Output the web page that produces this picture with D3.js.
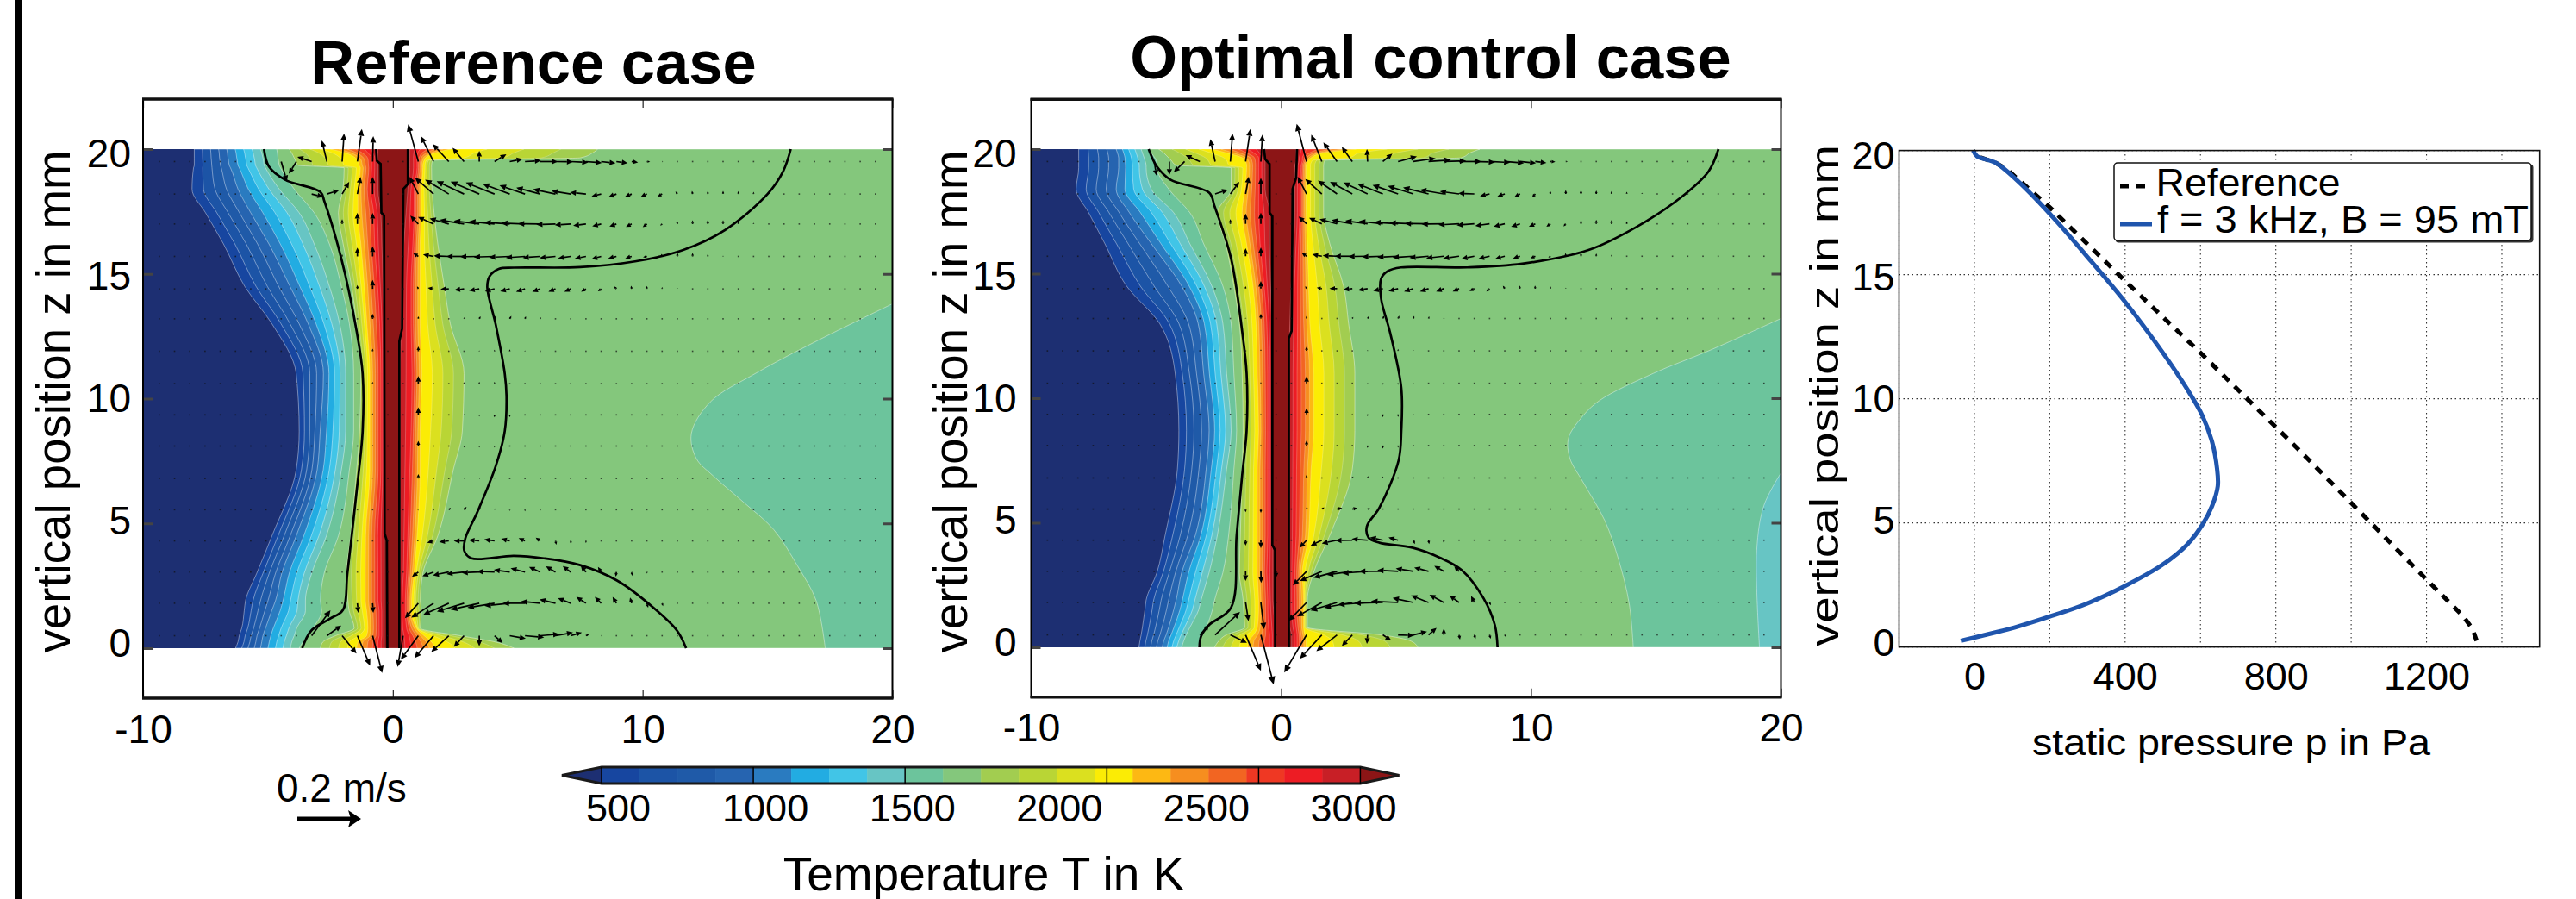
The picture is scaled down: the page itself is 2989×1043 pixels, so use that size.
<!DOCTYPE html>
<html><head><meta charset="utf-8">
<script src="https://cdn.jsdelivr.net/npm/d3@7/dist/d3.min.js"></script>
<style>html,body{margin:0;background:#fff}svg{display:block}text{font-family:"Liberation Sans",Arial,sans-serif;fill:#000}</style>
</head><body><svg id="c" width="2989" height="1043"></svg>
<script>
// ---- colour levels (K)
const bandColors=["#1746a0","#1c54a6","#1f5aa8","#2664b0","#2a7bc0","#22ace2","#41c5e7","#67c5c4","#6cc49c","#84c77c","#a2cd50","#b9d535","#dbe01f","#fbec05","#fdb813","#f68e1f","#f26522","#ef3823","#ed1c24","#c81f26"];
const colorLow="#1d2f72", colorHigh="#8c1516";
const levelStart=500, levelStep=125;
const cbTickValues=[500,1000,1500,2000,2500,3000];
const cbTickLines=[500,1000,1500,2165,2665];
// ---- contour readings: x (mm) of each key isotherm at each height
const zStations=[0,.25,.5,.8,1.5,1.9,3,4.5,7.15,8.7,11,13,14.5,16.2,17.45,18.4,19.25,19.35,19.55,19.65,19.85,20];
const leftKeys=[500,1000,1500,1625,1750,2250,2750,3000];
const rightKeys=[3000,2750,2250,1750];
const refLeft=[
[-6.3,-5.3,-4.1,-3.75,-2.9,-1.45,-.6,-.34],
[-6.2,-5.25,-4.05,-3.6,-2.8,-1.4,-.6,-.34],
[-6.15,-5.2,-3.95,-3.4,-2.3,-1.05,-.55,-.34],
[-6.05,-5.1,-3.85,-3.2,-1.55,-1,-.55,-.34],
[-5.95,-4.85,-3.5,-2.85,-1.75,-1.05,-.55,-.34],
[-5.9,-4.7,-3.5,-2.9,-1.8,-1.1,-.6,-.34],
[-5.45,-4.45,-3.25,-2.75,-1.85,-1.1,-.6,-.34],
[-4.84,-3.87,-2.66,-2.18,-1.69,-1.09,-.61,-.34],
[-3.87,-3.03,-2.06,-1.74,-1.45,-.92,-.48,-.34],
[-3.75,-2.91,-1.89,-1.57,-1.33,-.92,-.48,-.34],
[-3.87,-2.78,-1.89,-1.57,-1.28,-.92,-.48,-.34],
[-4.84,-3.39,-2.13,-1.74,-1.45,-1.04,-.53,-.34],
[-5.93,-4.12,-2.54,-2.06,-1.65,-1.14,-.61,-.39],
[-6.78,-4.96,-3.15,-2.54,-1.99,-1.28,-.73,-.44],
[-7.5,-5.69,-3.75,-3.15,-2.18,-1.4,-.77,-.48],
[-8.04,-6.2,-4.55,-3.95,-2,-1.4,-.9,-.6],
[-7.98,-6.5,-5.1,-4.5,-1.95,-1.3,-.85,-.6],
[-7.95,-6.55,-5.15,-4.55,-3.8,-1.35,-.85,-.6],
[-7.95,-6.58,-5.18,-4.58,-3.9,-1.4,-.85,-.6],
[-7.95,-6.6,-5.2,-4.6,-3.95,-1.5,-.85,-.6],
[-7.95,-6.62,-5.25,-4.62,-4.05,-1.9,-1,-.6],
[-7.95,-6.65,-5.3,-4.65,-4.15,-2.5,-1.13,-.6]];
const refRight=[
[.24,.73,1.7,4.85],[.24,.7,1.55,4.1],[.24,.65,1.25,2.7],[.24,.55,.95,1.1],[.24,.5,.75,1.15],[.24,.5,.75,1.1],
[.29,.55,.85,1.2],[.29,.6,.97,1.8],[.29,.68,1.09,2.42],[.29,.73,1.09,2.78],[.29,.77,1.16,2.85],[.34,.73,1.09,2.3],
[.36,.73,1.09,2.06],[.44,.8,1.09,1.8],[.53,.85,1.14,1.65],[.6,.85,1.14,1.57],[.68,.97,1.2,1.55],[.68,.97,1.2,1.55],
[.68,.97,1.25,1.6],[.68,.97,1.3,7.5],[.68,1,1.7,8],[.68,1.1,2.3,8.2]];
const optLeft=[
[-5.69,-4.75,-3.98,-3.32,-2.66,-1.34,-.46,-.24],
[-5.65,-4.7,-3.9,-3.25,-2.5,-1.3,-.46,-.24],
[-5.6,-4.6,-3.8,-3.15,-2.2,-1.1,-.46,-.24],
[-5.55,-4.5,-3.65,-3,-1.45,-.95,-.5,-.24],
[-5.45,-4.3,-3.3,-2.75,-1.5,-.9,-.53,-.3],
[-5.4,-4.2,-3.2,-2.66,-1.52,-.9,-.53,-.33],
[-4.97,-3.98,-2.88,-2.33,-1.67,-.95,-.57,-.33],
[-4.64,-3.43,-2.55,-2.1,-1.63,-.95,-.53,-.33],
[-4.15,-3,-2.18,-1.89,-1.56,-.95,-.53,-.35],
[-4.09,-2.88,-2,-1.78,-1.52,-.9,-.53,-.35],
[-4.24,-3.1,-2.18,-1.89,-1.56,-.95,-.53,-.35],
[-4.86,-3.32,-2.33,-2,-1.67,-1,-.57,-.37],
[-6.18,-3.98,-2.77,-2.33,-1.89,-1.12,-.68,-.42],
[-7.05,-5.19,-3.65,-3.1,-2.22,-1.38,-.84,-.46],
[-7.7,-6.07,-4.3,-3.65,-2.55,-1.56,-.9,-.46],
[-8.2,-6.6,-5.2,-4.5,-2,-1.45,-.9,-.64],
[-8.1,-6.5,-5.4,-4.97,-2,-1.38,-.9,-.64],
[-8.1,-6.5,-5.4,-4.97,-4.2,-1.38,-.9,-.64],
[-8.1,-6.5,-5.45,-5,-4.4,-1.45,-.9,-.64],
[-8.1,-6.5,-5.48,-5.05,-4.5,-1.55,-.9,-.64],
[-8.1,-6.55,-5.55,-5.2,-4.7,-2.2,-1.1,-.64],
[-8.1,-6.6,-5.6,-5.3,-4.9,-2.75,-1.35,-.64]];
const optRight=[
[.42,.64,1,5.47],[.42,.64,1,5.2],[.42,.64,.95,4],[.35,.6,.9,1.05],[.3,.55,.9,1.05],[.29,.55,.9,1.05],
[.3,.55,.85,1.3],[.3,.6,1.1,1.95],[.31,.62,1.2,2.85],[.31,.64,1.3,2.95],[.31,.64,1.3,2.95],[.35,.66,1.15,2.7],
[.4,.66,1.1,2.5],[.5,.7,1.05,1.95],[.55,.75,1,1.7],[.55,.75,1,1.7],[.55,.8,1,1.7],[.55,.8,1,1.7],
[.6,.85,1.1,1.75],[.6,.85,1.2,7.2],[.6,.95,1.7,7.56],[.6,1,3,7.95]];
// cooler pockets on the right of the plate
const refPocketX=[17.31,16.95,16.2,15.25,14.04,12.83,12.15,11.95,12.71,14.5,16.95,20];
const refPocketZ=[0,1.9,3.3,4.75,5.85,6.9,7.6,8.6,9.87,11,12.3,13.8];
const optPocketX=[14.09,13.93,13.5,12.95,12.07,11.55,11.5,12,12.73,14.9,17.1,20];
const optPocketZ=[0,1.74,3.53,5.09,6.65,7.6,8.4,9.2,9.9,11,11.9,13.2];
const optPocket2X=[19.14,19.03,19.32,20];
const optPocket2Z=[0,3.9,5.7,7];
// ---- black lines [x,z]
const refLines=[
[[-5.16,20],[-4.96,19.3],[-4.31,18.77],[-2.9,18.28],[-2.74,17.9],[-2.06,15.6],[-1.45,12.7],[-1.21,11],[-1.21,8.7],[-1.45,6.3],[-1.82,3],[-2,1.53],[-2.54,1.17],[-3.27,.7],[-3.63,0]],
[[15.93,20],[15.62,19.1],[15,18.2],[13.3,16.76],[11.6,15.95],[9.7,15.5],[7.5,15.27],[4.84,15.25],[4.24,15.2],[3.87,14.9],[3.78,14.47],[4.12,12.96],[4.48,11],[4.55,10.1],[4.48,8.7],[4.12,7.3],[3.39,5.47],[2.9,4.4],[2.86,3.9],[3.15,3.6],[4.84,3.7],[6.05,3.6],[7.5,3.33],[8.96,2.72],[10.4,1.65],[11.38,.7],[11.74,0]]];
const refCore=[
[[-.67,20],[-.64,19.53],[-.49,19.41],[-.46,17.45],[-.35,17.34],[-.33,4.6],[-.24,4.3],[-.22,0]],
[[.6,20],[.6,18.6],[.42,18.4],[.37,12.8],[.26,12.3],[.26,0]]];
const optLines=[
[[-5.3,20],[-4.97,19.3],[-4.42,18.77],[-2.88,18.25],[-2.66,17.7],[-2,15.6],[-1.56,12.7],[-1.38,11],[-1.38,8.7],[-1.56,6.9],[-1.78,4.5],[-2,1.6],[-2.88,.9],[-3.2,.45],[-3.27,0]],
[[17.5,20],[17.1,19.1],[16,18.06],[14.26,16.9],[12.3,15.95],[9.65,15.4],[7.45,15.25],[4.8,15.25],[4.26,15.1],[4,14.8],[4,14],[4.37,12.6],[4.81,10.4],[4.81,8.7],[4.7,7.5],[3.93,5.6],[3.43,4.85],[3.5,4.4],[3.93,4.2],[5.25,4],[6.35,3.6],[7.23,3.1],[8.1,1.97],[8.55,.9],[8.66,0]]];
const optCore=[
[[-.68,20],[-.64,19.6],[-.46,19.4],[-.46,17.45],[-.35,17.3],[-.35,4.1],[-.24,3.9],[-.24,0]],
[[.64,20],[.6,18.85],[.46,18.4],[.42,12.7],[.31,12.4],[.31,0]]];
// ---- velocity (cm/s): [z, first column, [u,v,u,v,...]]
const colFirst=-15, colLast=32, colX0=-.2, colDx=.61;
const rowsZ=[.5,1.8,3.05,4.3,5.55,6.8,8.1,9.35,10.6,11.9,13.2,14.4,15.7,17,18.2,19.5];
const refQuiver=[
[19.5,-8,[.3,-1,1.8,-6.3,-2.4,-3.8,-4.5,1.5,-1.6,6.6,.6,8.8,1.4,10.2,.2,8,0,0,0,0,-3.2,11.7,-4,8,-5,5.5,-3.6,4.3,0,3.4,3.7,2.3,4,.8,5,.3,5.5,0,5.5,-.1,5.5,-.3,5,-.4,4.5,-.5,3.5,-.5,2,-.3,1,-.1,.3,0]],
[18.2,-5,[3.6,-.9,3.8,1.2,2.2,3.8,1,5.4,0,5.4,0,0,0,0,-2.8,5.4,-5.8,5.1,-7.4,4.5,-8.6,4,-9,3.9,-9,3.6,-8.5,3.2,-8,2.7,-7.5,2,-7,1.5,-6,1,-5,.5,-3,-.7,-2.5,-1,-2.2,-1,-2,-1,-1.4,-.8,-.6,.8,-.2,1,0,1,0,1,0,.9,0,.7,0,.4]],
[17,-3,[0,1.5,0,3.5,0,3.5,0,0,0,0,-2.5,2.6,-4.9,2.2,-6,1.7,-7.6,1.3,-8,1,-8,.8,-8,.5,-7.5,.3,-7,.1,-6,-.2,-5,-.3,-4,-.5,-2.8,-.7,-2.2,-.8,-1.8,-.9,-1.3,-1,-.6,-.5,-.1,1,0,1.2,0,1.3,0,1.2,0,.8,0,.4]],
[15.7,-3,[0,.7,0,2.8,0,3.2,0,0,0,0,-1.6,1,-3.3,.6,-4.7,.2,-5.5,0,-6,-.1,-6.5,-.2,-6.5,-.3,-6,-.4,-5.5,-.4,-5,-.5,-4,-.6,-3.5,-.7,-3,-.8,-2.6,-.7,-2,-.6,-1.2,-.3,-.3,.8,0,1.2,0,1.1,0,.8,0,.3]],
[14.4,-2,[0,1.2,0,2.8,0,0,0,0,-.4,.8,-1.8,.3,-2.6,-.1,-3,-.4,-3.2,-.6,-3,-.8,-3,-.8,-2.8,-.9,-2.5,-.9,-2.2,-.9,-2,-.9,-1.5,-.9,-1,-.8,-.7,.8,-.2,1,0,.9,0,.6,0,.3]],
[13.2,-1,[0,1.6,0,0,0,0,0,.8,0,0,0,0,.3,.6,.4,.8,.4,.9,.5,.9,.3,.8,.2,.5]],
[11.9,-1,[0,.8,0,0,0,0,0,1.5,0,0,0,0,0,0,0,.3,0,.5,0,.6,0,.3]],
[10.6,-1,[0,.6,0,0,0,0,0,2.4,0,0,0,0,0,.5,0,.6,0,.6]],
[9.35,-1,[0,.5,0,0,0,0,0,2.4,0,0,0,0,0,.3,0,-.5,0,-.8,0,-.7]],
[8.1,-1,[0,.4,0,0,0,0,0,1.6,0,0,0,0,0,-.5,0,-.5,0,-.5]],
[6.8,-1,[0,.3,0,0,0,0,0,1.4,0,0,0,0,.4,.3,.3,.3,0,.3]],
[5.55,2,[-.3,0,0,0,.6,.6,.8,.9,.3,.9,.1,.4,0,-.4,0,-.5]],
[4.3,2,[-.5,.2,-2,-.6,-3,-.3,-3.2,0,-3.3,.3,-3.2,.5,-2.7,.7,-2,.9,-1.4,1,.3,-1.2,.1,-1,0,-.7]],
[3.05,2,[-2,-1.5,-3.5,-1.3,-5,-1,-5.5,-.6,-5.5,-.2,-5.5,.2,-5,.7,-4.5,1.2,-3.5,1.6,-3,1.8,-2.5,1.9,-1.6,2,-1,1.6,-.2,-1.4,.3,-1.2,.1,-.5]],
[1.8,-2,[.3,-3,.2,-3,0,0,0,0,-4.2,-4.7,-7,-4.5,-8,-3.6,-8.5,-2.6,-9,-2,-8.5,-1.4,-8,-.8,-7,0,-6,.6,-5,1.2,-4,1.6,-3,2,-2,2,-1.2,2,-.5,1.8,.4,-1.4,.3,-.9]],
[.5,-5,[5.9,8,4.5,3.2,4.5,-5.6,4,-9.4,3,-11.7,0,0,-1.7,-9.8,-5.5,-7.5,-6,-7,-5.5,-5.1,-3.2,-3.5,0,-3.3,2.6,-2.3,5,-.9,6,-.5,6,.5,5.5,1,3.5,1,1,.5,.3,.1]]];
const optQuiver=[
[19.5,-8,[.8,-4.5,0,-4.2,-3.4,-3.3,-4.5,2,-1.5,7,.7,8.8,1.5,10.2,.5,8.4,0,0,0,0,-3.1,11.8,-3.3,8.4,-4.3,6,-3.3,4.6,-.2,3.9,3,2.5,5.9,1.6,7,1,7,.5,7,.2,7,0,6.5,-.2,6.5,-.3,6,-.5,5,-.5,3.5,-.4,1.5,-.1,.6,0]],
[18.2,-4,[4,1.3,2.8,3.8,1,5.4,0,5,0,0,0,0,-2.8,5.4,-5.2,4.7,-6,4.2,-7,3.8,-7.6,3.6,-8,3.2,-8,2.8,-8,2.5,-8,2,-7.5,1.3,-6,.8,-5,.2,-3,-.7,-2.4,-.9,-1.8,-1,-1,-1.1,-.2,1,0,1.2,0,1.2,0,1.1,0,.9,0,.7,0,.4]],
[17,-3,[0,1.5,0,3.2,0,3.5,0,0,0,0,-2.5,2.3,-4,1.9,-5.5,1.5,-6.5,1.2,-7,1,-7.5,.8,-7.5,.5,-7.5,.3,-7.5,.1,-7,-.1,-6.5,-.3,-5.5,-.4,-4.5,-.6,-3.5,-.8,-2.8,-.9,-2,-.9,-1.3,-.9,-.7,-.8,0,1.2,0,1.3,0,1.2,0,.8,0,.4]],
[15.7,-3,[0,.6,0,2.5,0,2.8,0,0,0,0,-1.5,1,-3,.6,-4.5,.2,-5.5,0,-6,-.1,-6.5,-.2,-6.5,-.3,-6.5,-.4,-6,-.5,-5.5,-.6,-5,-.7,-4,-.8,-3.5,-.8,-3,-.8,-2.3,-.8,-1.5,-.7,-.7,-.4,-.1,1,0,1.1,0,.9,0,.5]],
[14.4,-2,[0,.8,0,2.4,0,0,0,0,-.4,.8,-1.6,.3,-2.4,0,-2.8,-.3,-3,-.5,-3,-.7,-3,-.8,-2.9,-.9,-2.7,-.9,-2.4,-.9,-2,-.9,-1.5,-.8,-1,-.9,-.6,.9,-.3,1.1,-.1,1,0,.7,0,.3]],
[13.2,-2,[0,.3,0,1.5,0,0,0,0,0,.9,0,0,0,0,.3,.5,.4,.7,.4,.9,.4,.9,.3,.8,.2,.7,.1,.4]],
[11.9,-1,[0,.5,0,0,0,0,0,1.4,0,0,0,0,0,0,0,.3,0,.5,0,.6,0,.3]],
[10.6,-1,[0,.4,0,0,0,0,0,2.2,0,0,0,0,0,0,0,-.3,0,-.5,0,-.5,0,-.3]],
[9.35,-1,[0,.3,0,0,0,0,0,2,0,0,0,0,0,.3,0,-.6,0,-.9,0,-.8,0,-.3]],
[8.1,-1,[0,.3,0,0,0,0,0,1.6,0,0,0,0,0,0,0,-.8,0,-1,0,-.7]],
[6.8,-2,[0,-.3,0,-.4,0,0,0,0,0,1,0,0,0,0,.3,.5,.2,.6,0,.5]],
[5.55,-2,[0,-1,0,-1.2,0,0,0,0,.2,.8,.8,.5,1.6,.4,1.6,.3,.8,.2]],
[4.3,-2,[0,-1.7,0,-2.5,0,0,0,0,-2.2,-2.4,-3.5,-1.7,-4.8,-1,-5.3,-.1,-5,.4,-4,.9,-3,.9,.5,-1.2,.2,-1.2,0,-.9]],
[3.05,-2,[0,-3,.1,-3.6,0,-2,0,0,-4.3,-4.4,-6.9,-3,-7.4,-2,-8,-1.1,-8,-.6,-7.5,0,-6.5,.4,-5.5,.9,-4.5,1.2,-3,1.7,-1.5,1.5,.2,-.6]],
[1.8,-2,[.9,-5.8,1,-8.4,0,0,0,0,-5.7,-5.8,-7.8,-4.4,-8.3,-2.5,-8.8,-1.6,-9.3,-.7,-9,-.2,-8.5,.4,-6.5,1.4,-5.5,2.2,-4.5,2.4,-3,2.2,-1,2,.4,-.9]],
[.5,-5,[3,3.2,7.8,7.2,5.2,-2.5,4.8,-11.3,4,-15.5,0,0,0,0,-7,-11.8,-6.9,-7.5,-6.5,-5.1,-3.3,-3.5,-.2,-2.8,2.6,-1.7,5,-.2,4.3,1,2.5,2.2,0,2,.3,-1.5,.4,-1.3,.4,-1.2,.2,-.6]]];
// ---- pressure profile
const blueP=[-36,46,106,199,299,400,498,565,605,631,646,644,631,605,565,498,400,312,199,113,57,7,-3];
const blueZ=[.25,.55,.78,1.22,1.75,2.46,3.3,4.13,4.92,5.69,6.48,7.19,8.25,9.32,10.38,11.9,13.9,15.5,17.47,18.8,19.5,19.77,20];
const refP=[1333,1322,1296,1203,1056,864,600,399,199,86,57,7,-3];
const refZ=[.25,.73,1.26,2.67,4.94,7.9,11.85,14.76,17.73,19.24,19.5,19.77,20];
const pTickLabels=[0,400,800,1200];
const pGrid=[-200,0,200,400,600,800,1000,1200,1400];
const zTicks=[0,5,10,15,20];
const xTicks=[-10,0,10,20];
const pxPerCm=3.7;

const svg=d3.select("#c");
const defs=svg.append("defs");
svg.append("rect").attr("x",17).attr("y",0).attr("width",9).attr("height",1043).attr("fill","#000");

const labelShift=d3.scaleLinear([0,20],[-5,6]);
const plain=d=>String(d);
function levelFill(L){return L>=3000?colorHigh:bandColors[Math.round((L-levelStart)/levelStep)];}

function panel(id,left,right,z0,z20,tbl,yLabelPad,yLabelX){
  const x=d3.scaleLinear([-10,20],[left,right]);
  const y=d3.scaleLinear([0,20],[z0,z20]);
  const g=svg.append("g");
  defs.append("clipPath").attr("id",id).append("rect").attr("x",x(-10)).attr("y",y(20)).attr("width",x(20)-x(-10)).attr("height",y(0)-y(20));
  const plate=g.append("g").attr("clip-path",`url(#${id})`);
  plate.append("rect").attr("x",x(-10)).attr("y",y(20)).attr("width",x(20)-x(-10)).attr("height",y(0)-y(20)).attr("fill",colorLow);
  const area=d3.area().y(d=>y(d.z)).x0(d=>x(d.a)).x1(d=>x(d.b)).curve(d3.curveMonotoneY);
  const levels=d3.range(levelStart,3001,levelStep);
  levels.forEach(L=>{
    const pts=zStations.map((z,i)=>{
      const a=d3.scaleLinear(leftKeys,tbl.left[i])(L);
      const b=L>=1750?d3.scaleLinear(rightKeys,tbl.right[i])(L):20;
      return {z,a,b};
    });
    plate.append("path").attr("d",area(pts)).attr("fill",levelFill(L))
      .attr("stroke","#fff").attr("stroke-width",L<=1750?.9:.5).attr("stroke-opacity",.45);
  });
  tbl.pockets.forEach(p=>{
    const pts=p.z.map((z,i)=>({z,a:p.x[i],b:20}));
    plate.append("path").attr("d",d3.area().y(d=>y(d.z)).x0(d=>x(d.a)).x1(d=>x(d.b)).curve(d3.curveCatmullRom)(pts))
      .attr("fill",levelFill(p.level)).attr("stroke","#fff").attr("stroke-width",.8).attr("stroke-opacity",.5);
  });
  const line=d3.line().x(d=>x(d[0])).y(d=>y(d[1]));
  tbl.lines.forEach(l=>g.append("path").attr("d",line.curve(d3.curveCatmullRom.alpha(.5))(l)).attr("fill","none").attr("stroke","#000").attr("stroke-width",2.7));
  tbl.core.forEach(l=>g.append("path").attr("d",line.curve(d3.curveLinear)(l)).attr("fill","none").attr("stroke","#000").attr("stroke-width",2.7));
  // velocity arrows
  const q=g.append("g");
  rowsZ.forEach(rz=>{
    const row=tbl.quiver.find(r=>r[0]===rz)||[rz,0,[]];
    d3.range(colFirst,colLast+1).forEach(k=>{
      const idx=k-row[1], has=idx>=0&&idx*2<row[2].length;
      const u=has?row[2][idx*2]:0, v=has?row[2][idx*2+1]:0;
      const x0=x(colX0+colDx*k), y0=y(rz);
      const dx=u*pxPerCm, dy=-v*pxPerCm, len=Math.hypot(dx,dy);
      if(len<1){q.append("rect").attr("x",x0-.8).attr("y",y0-.8).attr("width",1.6).attr("height",1.6).attr("fill","#111").attr("opacity",.7);return;}
      const hl=Math.min(len*.75,6+len*.05), hw=hl*.46;
      const ux=dx/len, uy=dy/len, tx=x0+dx, ty=y0+dy;
      const bx=tx-ux*hl, by=ty-uy*hl;
      q.append("line").attr("x1",x0).attr("y1",y0).attr("x2",bx).attr("y2",by).attr("stroke","#000").attr("stroke-width",1.7);
      q.append("path").attr("d",`M${tx},${ty}L${bx-uy*hw},${by+ux*hw}L${bx+uy*hw},${by-ux*hw}Z`).attr("fill","#000");
    });
  });
  // frame & axes
  const xb=g.append("g").attr("transform",`translate(0,${y(-2)})`).call(d3.axisBottom(x).tickValues(xTicks).tickSizeInner(-10).tickSizeOuter(0).tickPadding(19).tickFormat(plain));
  const xt=g.append("g").attr("transform",`translate(0,${y(22)})`).call(d3.axisTop(x).tickValues(xTicks).tickSizeInner(-10).tickSizeOuter(0).tickFormat(""));
  const yl=g.append("g").attr("transform",`translate(${x(-10)},0)`).call(d3.axisLeft(y).tickValues(zTicks).tickSizeInner(-11).tickSizeOuter(0).tickPadding(yLabelPad));
  const yr=g.append("g").attr("transform",`translate(${x(20)},0)`).call(d3.axisRight(y).tickValues(zTicks).tickSizeInner(-11).tickSizeOuter(0).tickFormat(""));
  [xb,xt,yl,yr].forEach(a=>{a.select(".domain").remove();a.selectAll("text").attr("font-size",46).attr("font-family",null);});
  [xb,xt].forEach(a=>a.selectAll("line").attr("stroke","#222").attr("stroke-width",1.2));
  [yl,yr].forEach(a=>a.selectAll("line").attr("stroke","#444").attr("stroke-width",3));
  yl.selectAll(".tick text").attr("transform",d=>`translate(0,${labelShift(d)})`);
  g.append("rect").attr("x",x(-10)).attr("y",y(22)).attr("width",x(20)-x(-10)).attr("height",y(-2)-y(22)).attr("fill","none").attr("stroke","#000").attr("stroke-width",2);
  [y(22),y(-2)].forEach(v=>g.append("line").attr("x1",x(-10)-1).attr("x2",x(20)+1).attr("y1",v).attr("y2",v).attr("stroke","#111").attr("stroke-width",3.5));
  svg.append("text").attr("transform",`translate(${yLabelX},466) rotate(-90)`).attr("text-anchor","middle").attr("font-size",56)
    .attr("textLength",583).attr("lengthAdjust","spacingAndGlyphs").text("vertical position z in mm");
}

panel("p1",166,1035.5,752,173,{left:refLeft,right:refRight,lines:refLines,core:refCore,quiver:refQuiver,
  pockets:[{x:refPocketX,z:refPocketZ,level:1500}]},14,81);
panel("p2",1196.5,2066.5,751,173,{left:optLeft,right:optRight,lines:optLines,core:optCore,quiver:optQuiver,
  pockets:[{x:optPocketX,z:optPocketZ,level:1500},{x:optPocket2X,z:optPocket2Z,level:1375}]},17,1122);

svg.append("text").attr("x",619).attr("y",97).attr("text-anchor","middle").attr("font-size",70.5).attr("font-weight",700).text("Reference case");
svg.append("text").attr("x",1660).attr("y",91).attr("text-anchor","middle").attr("font-size",70.5).attr("font-weight",700).text("Optimal control case");

// ---- speed key
svg.append("text").attr("x",321).attr("y",930).attr("font-size",46).text("0.2 m/s");
{
  const sx=d3.scaleLinear([0,.2],[345,419]);
  svg.append("line").attr("x1",sx(0)).attr("x2",sx(.2)-10).attr("y1",950).attr("y2",950).attr("stroke","#000").attr("stroke-width",5);
  svg.append("path").attr("d",`M${sx(.2)},950L${sx(.2)-15},940L${sx(.2)-12},950L${sx(.2)-15},960Z`).attr("fill","#000");
}

// ---- colour bar
{
  const cb=d3.scaleLinear([500,3000],[698,1578.4]);
  const top=890,bot=909,mid=899.5;
  const g=svg.append("g");
  bandColors.forEach((c,i)=>{
    const a=levelStart+i*levelStep;
    g.append("rect").attr("x",cb(a)).attr("y",top).attr("width",cb(a+levelStep)-cb(a)+.5).attr("height",bot-top).attr("fill",c);
  });
  g.append("path").attr("d",`M${cb(500)},${top}L652,${mid}L${cb(500)},${bot}Z`).attr("fill",colorLow);
  g.append("path").attr("d",`M${cb(3000)},${top}L1623.5,${mid}L${cb(3000)},${bot}Z`).attr("fill",colorHigh);
  g.append("path").attr("d",`M652,${mid}L${cb(500)},${top}L${cb(3000)},${top}L1623.5,${mid}L${cb(3000)},${bot}L${cb(500)},${bot}Z`).attr("fill","none").attr("stroke","#1a1a1a").attr("stroke-width",3);
  g.selectAll("line.t").data(cbTickLines.concat([3000])).join("line").attr("x1",d=>cb(d)).attr("x2",d=>cb(d)).attr("y1",top).attr("y2",bot).attr("stroke","#000").attr("stroke-width",1.5);
  const cbl=d3.scaleLinear([500,3000],[717,1570]);
  const ax=g.append("g").attr("transform",`translate(0,${bot})`).call(d3.axisBottom(cbl).tickValues(cbTickValues).tickSize(0).tickPadding(12).tickFormat(plain));
  ax.select(".domain").remove();
  ax.selectAll("text").attr("font-size",45).attr("font-family",null);
  svg.append("text").attr("x",1141.5).attr("y",1033).attr("text-anchor","middle").attr("font-size",55).text("Temperature T in K");
}

// ---- pressure plot
{
  const x=d3.scaleLinear([-200,1500],[2203.5,2946.7]);
  const y=d3.scaleLinear([0,20],[750.6,174.6]);
  const g=svg.append("g");
  pGrid.forEach(p=>g.append("line").attr("x1",x(p)).attr("x2",x(p)).attr("y1",y(0)).attr("y2",y(20)).attr("stroke","#333").attr("stroke-width",1.1).attr("stroke-dasharray","1.5 3.5"));
  zTicks.forEach(z=>g.append("line").attr("x1",x(-200)).attr("x2",x(1500)).attr("y1",y(z)).attr("y2",y(z)).attr("stroke","#333").attr("stroke-width",1.1).attr("stroke-dasharray","1.5 3.5"));
  const line=d3.line().x(d=>x(d[0])).y(d=>y(d[1])).curve(d3.curveLinear);
  g.append("path").attr("d",line(d3.zip(refP,refZ))).attr("fill","none").attr("stroke","#000").attr("stroke-width",5).attr("stroke-dasharray","10 9");
  g.append("path").attr("d",line.curve(d3.curveCatmullRom)(d3.zip(blueP,blueZ))).attr("fill","none").attr("stroke","#1f55ad").attr("stroke-width",5);
  g.append("rect").attr("x",x(-200)).attr("y",y(20)).attr("width",x(1500)-x(-200)).attr("height",y(0)-y(20)).attr("fill","none").attr("stroke","#111").attr("stroke-width",1.6);
  const xa=g.append("g").attr("transform",`translate(0,${y(0)})`).call(d3.axisBottom(x).tickValues(pTickLabels).tickSize(0).tickPadding(17).tickFormat(plain));
  const ya=g.append("g").attr("transform",`translate(${x(-200)},0)`).call(d3.axisLeft(y).tickValues(zTicks).tickSize(0).tickPadding(5));
  [xa,ya].forEach(a=>{a.select(".domain").remove();a.selectAll("text").attr("font-size",45).attr("font-family",null);});
  ya.selectAll(".tick text").attr("transform",d=>`translate(0,${labelShift(d)})`);
  svg.append("text").attr("transform","translate(2133,459) rotate(-90)").attr("text-anchor","middle").attr("font-size",47)
    .attr("textLength",582).attr("lengthAdjust","spacingAndGlyphs").text("vertical position z in mm");
  svg.append("text").attr("x",2589).attr("y",876).attr("text-anchor","middle").attr("font-size",42)
    .attr("textLength",462).attr("lengthAdjust","spacingAndGlyphs").text("static pressure p in Pa");
  // legend
  const lg=svg.append("g");
  lg.append("rect").attr("x",2454.5).attr("y",190.5).attr("width",485).attr("height",91).attr("rx",4).attr("fill","#333");
  lg.append("rect").attr("x",2453).attr("y",189).attr("width",484).attr("height",90).attr("rx",4).attr("fill","#fff").attr("stroke","#111").attr("stroke-width",1.5);
  lg.append("line").attr("x1",2460).attr("x2",2493).attr("y1",216).attr("y2",216).attr("stroke","#000").attr("stroke-width",5).attr("stroke-dasharray","10 9");
  lg.append("line").attr("x1",2460).attr("x2",2497).attr("y1",260).attr("y2",260).attr("stroke","#1f55ad").attr("stroke-width",5);
  lg.append("text").attr("x",2501.5).attr("y",227).attr("font-size",44).attr("textLength",214).attr("lengthAdjust","spacingAndGlyphs").text("Reference");
  lg.append("text").attr("x",2503).attr("y",269.5).attr("font-size",44).attr("textLength",431).attr("lengthAdjust","spacingAndGlyphs").text("f = 3 kHz, B = 95 mT");
}
</script></body></html>
